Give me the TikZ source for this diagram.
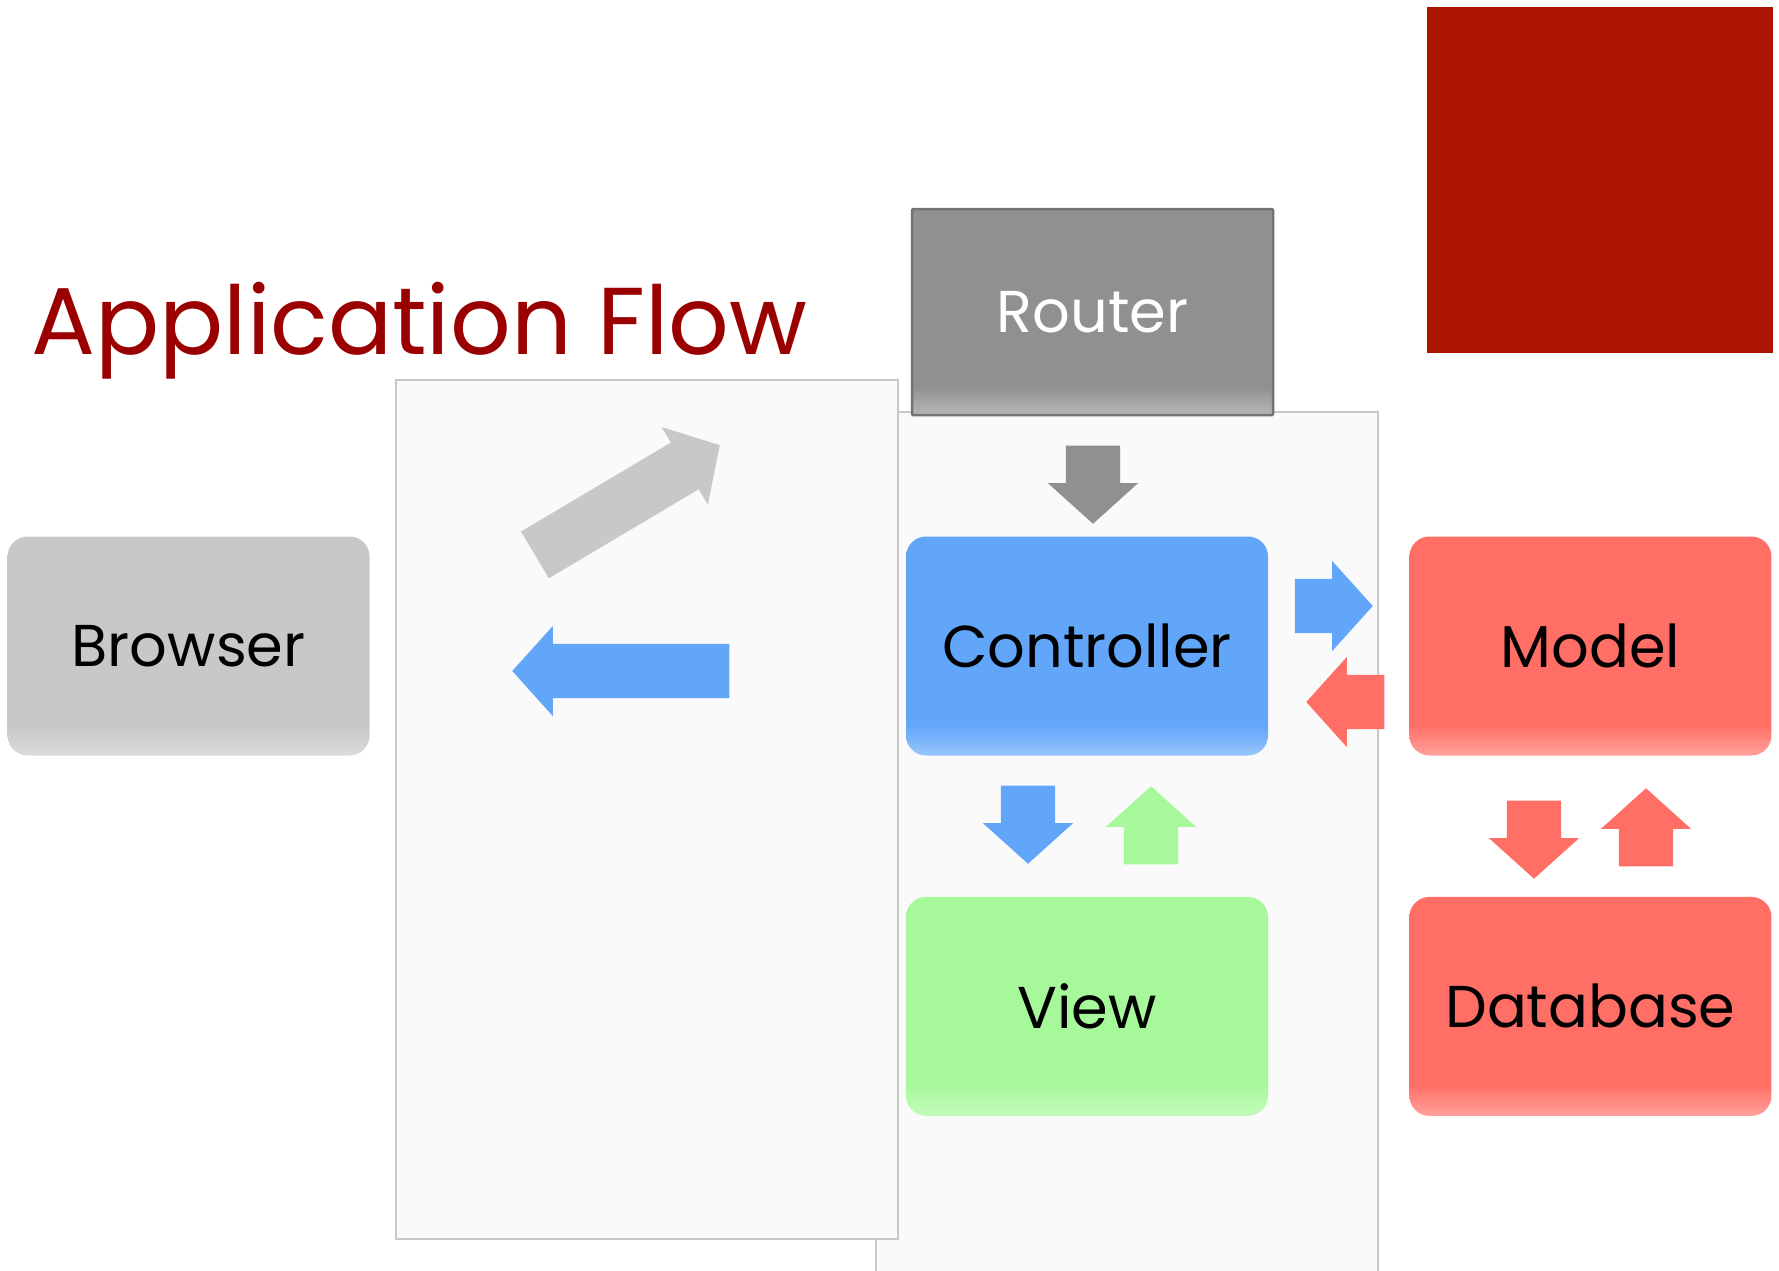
\documentclass[tikz,border=0pt]{standalone}
\usepackage{fontspec}
\setmainfont{Poppins}
\usepackage{tikz}
\usetikzlibrary{positioning}
\usetikzlibrary{shapes.arrows}
\usepackage{xcolor}

\definecolor{titlered}{HTML}{9A0000}
\definecolor{cornerred}{HTML}{AA1400}
\definecolor{panelfill}{HTML}{FAFAFA}
\definecolor{panelline}{HTML}{C8C8C8}
\definecolor{browsergray}{HTML}{C8C8C8}
\definecolor{routergray}{HTML}{909090}
\definecolor{ctrlblue}{HTML}{62A6FA}
\definecolor{modelred}{HTML}{FF6F66}
\definecolor{viewgreen}{HTML}{A6F89A}

% light band at the bottom of each box
\pgfdeclareverticalshading[boxtop,boxbot]{boxshade}{100bp}{color(0bp)=(boxbot); color(25bp)=(boxbot); color(32bp)=(boxtop); color(100bp)=(boxtop)}

\begin{document}
\begin{tikzpicture}[x=1pt, y=-1pt,
  box/.style = {shade, shading=boxshade, /utils/exec={\colorlet{boxtop}{#1}\colorlet{boxbot}{#1!65!white}},
    rounded corners=20pt, minimum width=362pt, minimum height=219pt, inner sep=0pt,
    font=\fontsize{59}{59}\selectfont},
  panel/.style = {fill=panelfill, draw=panelline, line width=1.5pt},
  blockarrow/.style = {single arrow, draw=none, fill=#1, inner xsep=0pt, inner ysep=27pt,
    text height=0pt, text depth=0pt, minimum width=90pt, single arrow head extend=18pt,
    single arrow tip angle=96, minimum height=78pt, anchor=tip},
  node distance=141pt]

\clip (0,0) rectangle (1779,1270);

% corner block and title
\fill[cornerred] (1427,7) rectangle (1773,353);
\node[anchor=base west, inner sep=0pt, text=titlered, font=\fontsize{95}{95}\selectfont] (title) at (31,354) {Application Flow};

% background panels
\draw[panel] (876,412) rectangle (1378,1300);
\draw[panel] (396,380) rectangle (898,1239);

% boxes
\node[box=ctrlblue] (ctrl) at (1087,646) {Controller};
\node[box=modelred] (model) [right=of ctrl] {Model};
\node[box=viewgreen] (view) [below=of ctrl] {View};
\node[box=modelred] (db) [below=of model] {Database};
\node[box=browsergray] (browser) [left=536pt of ctrl] {Browser};
\node[box=routergray, rounded corners=1pt, minimum width=361pt, minimum height=206pt,
  draw=black!55, line width=2.5pt, text=white, xshift=5.5pt] (router) [above=120pt of ctrl] {Router};

% arrows (placed by their tips)
\node[blockarrow=routergray, rotate=-90] (routerarr) at (1093,524) {};
\node[blockarrow=ctrlblue] (ctrlmodel) at (1373,606) {};
\node[blockarrow=modelred, rotate=180] (modelctrl) at (1306,702) {};
\node[blockarrow=ctrlblue, rotate=-90] (ctrlview) at (1028,864) {};
\node[blockarrow=viewgreen, rotate=90] (viewctrl) at (1151,786) {};
\node[blockarrow=modelred, rotate=-90] (modeldb) at (1534,879) {};
\node[blockarrow=modelred, rotate=90] (dbmodel) at (1646,788) {};
\node[blockarrow=ctrlblue, rotate=180, minimum height=217pt] (ctrlbrowser) at (512,671) {};
\node[blockarrow=browsergray, rotate=30.7, minimum height=215pt] (browserrouter) at (720,445) {};

\end{tikzpicture}
\end{document}
